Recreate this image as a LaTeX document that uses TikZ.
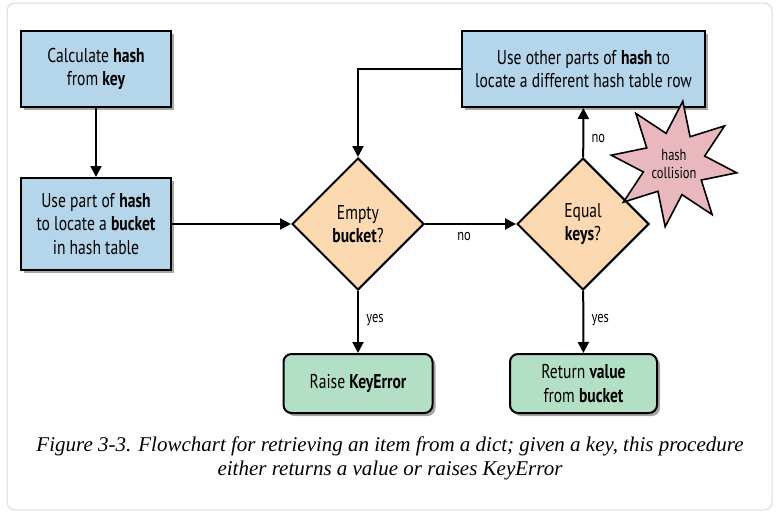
\documentclass[tikz,border=0pt]{standalone}
\usepackage{fontspec}
\setmainfont{Liberation Serif}
\newfontfamily\boxfont[FakeStretch=0.78]{PT Sans}
\usetikzlibrary{shapes.geometric,arrows.meta,shadows}
\definecolor{boxblue}{HTML}{B4D5EA}
\definecolor{peach}{HTML}{FCD9B0}
\definecolor{mint}{HTML}{B3DFC7}
\definecolor{pinkstar}{HTML}{E9B8BE}
\definecolor{frame}{HTML}{DADADA}
\tikzset{
  shade/.style={drop shadow={shadow xshift=3pt,shadow yshift=-3pt,fill=black,opacity=0.35}},
  bluebox/.style={rectangle,draw,line width=2pt,fill=boxblue,align=center,
    font=\boxfont\fontsize{20}{23.5}\selectfont,inner sep=2pt,shade},
  decision/.style={diamond,draw,line width=2pt,fill=peach,align=center,aspect=1,
    minimum width=132pt,minimum height=132pt,inner sep=0pt,
    font=\boxfont\fontsize{20}{23.5}\selectfont},
  endbox/.style={rectangle,rounded corners=8pt,draw,line width=2pt,fill=mint,align=center,
    font=\boxfont\fontsize{20}{23.5}\selectfont,inner sep=2pt,shade},
  arr/.style={line width=2pt,-{Triangle[width=11pt,length=11pt]}},
  lbl/.style={font=\boxfont\fontsize{16}{18}\selectfont},
}
\begin{document}
\begin{tikzpicture}[x=1pt,y=-1pt]
\useasboundingbox (0,0) rectangle (779,514);
\draw[frame,line width=1pt,rounded corners=8pt] (7,3) rectangle (772,510);

\node[bluebox,minimum width=150pt,minimum height=76pt] (calc) at (96,69)
  {Calculate \textbf{hash}\\from \textbf{key}};
\node[bluebox,minimum width=150pt,minimum height=92pt] (part) at (96,224)
  {Use part of \textbf{hash}\\to locate a \textbf{bucket}\\in hash table};
\node[decision] (empty) at (358,224) {Empty\\\textbf{bucket}?};
\node[decision] (equal) at (583,224) {Equal\\\textbf{keys}?};
\node[bluebox,minimum width=243pt,minimum height=76pt] (other) at (583.5,69)
  {Use other parts of \textbf{hash} to\\locate a different hash table row};
\node[endbox,minimum width=149pt,minimum height=59pt] (raise) at (358,383.5)
  {Raise \textbf{KeyError}};
\node[endbox,minimum width=147pt,minimum height=59pt] (ret) at (583.5,383.5)
  {Return \textbf{value}\\from \textbf{bucket}};
\node[star,star points=8,star point ratio=2,shape border rotate=-8,draw,line width=1.6pt,
  fill=pinkstar,minimum size=116pt,inner sep=0pt,align=center,
  font=\boxfont\fontsize{16}{18}\selectfont] (coll) at (674,164)
  {hash\\collision};

\draw[arr] (calc) -- (part);
\draw[arr] (part) -- (empty);
\draw[arr] (empty) -- node[lbl,below=4pt,pos=0.43]{no} (equal);
\draw[arr] (equal) -- node[lbl,right=4pt,pos=0.38]{no} (other);
\draw[arr] (other.west) -| (empty.north);
\draw[arr] (empty) -- node[lbl,right=4pt,pos=0.47]{yes} (raise);
\draw[arr] (equal) -- node[lbl,right=4pt,pos=0.47]{yes} (ret);

\node[align=center,font=\itshape\fontsize{21}{24}\selectfont] (cap) at (390,458)
  {Figure 3-3. Flowchart for retrieving an item from a dict; given a key, this procedure\\
   either returns a value or raises KeyError};
\end{tikzpicture}
\end{document}
